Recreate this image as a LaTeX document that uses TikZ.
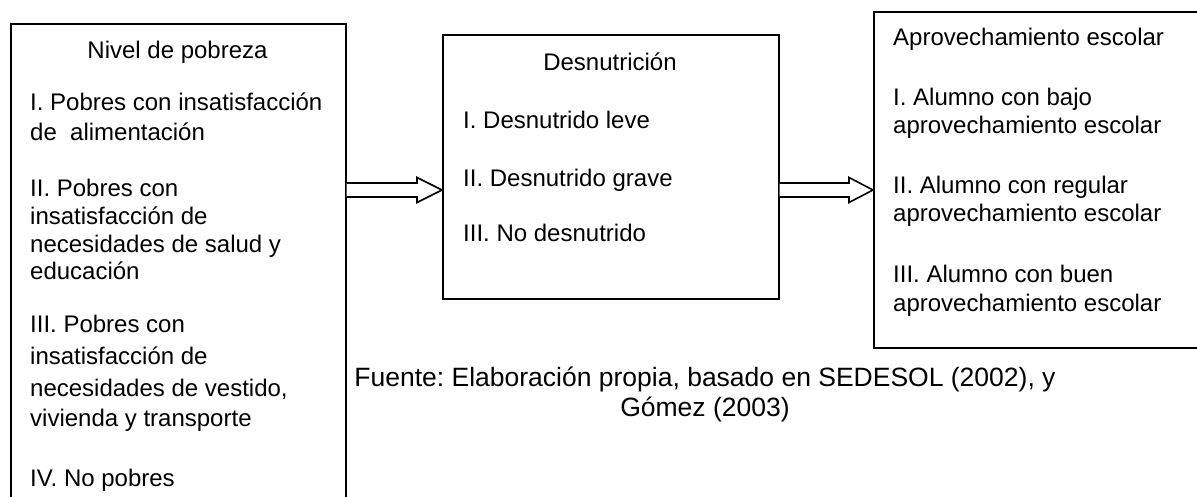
\documentclass[tikz,border=0pt]{standalone}
\usepackage{fontspec}
\setmainfont{Liberation Sans}
\usetikzlibrary{calc}
\frenchspacing
\begin{document}
\begin{tikzpicture}[x=1pt,y=-1pt,
  box/.style={draw=black, line width=1.6pt, rectangle, anchor=north west, inner sep=0pt},
  txt/.style={anchor=base west, inner sep=0pt, font=\fontsize{24}{29}\selectfont},
  ctxt/.style={anchor=base, inner sep=0pt, font=\fontsize{24}{29}\selectfont},
  captxt/.style={anchor=base, inner sep=0pt, font=\fontsize{26.5}{31}\selectfont},
  hollow/.style={draw=black, line width=1.6pt, line join=miter, fill=white}]
\useasboundingbox (0,0) rectangle (1197,497);
\fill[white] (0,0) rectangle (1197,497);
\clip (0,0) rectangle (1197,497);
% boxes
\node[box, minimum width=335pt, minimum height=540pt] (L) at (10,23) {};
\node[box, minimum width=336pt, minimum height=264pt] (M) at (442,34) {};
\node[box, minimum width=340pt, minimum height=336pt] (R) at (873,11) {};
% left box text
\node[ctxt] (l0) at (177.5,59) {Nivel de pobreza};
\node[txt] (l1) at (30,111) {I. Pobres con insatisfacción};
\node[txt] (l2) at (30,141) {de\ \ alimentación};
\node[txt] (l3) at (30,197) {II. Pobres con};
\node[txt] (l4) at (30,224.5) {insatisfacción de};
\node[txt] (l5) at (30,252) {necesidades de salud y};
\node[txt] (l6) at (30,279.5) {educación};
\node[txt] (l7) at (30,332) {III. Pobres con};
\node[txt] (l8) at (30,364) {insatisfacción de};
\node[txt] (l9) at (30,396) {necesidades de vestido,};
\node[txt] (l10) at (30,426) {vivienda y transporte};
\node[txt] (l11) at (30,486) {IV. No pobres};
% middle box text
\node[ctxt] (m0) at (610,71) {Desnutrición};
\node[txt] (m1) at (463,129) {I. Desnutrido leve};
\node[txt] (m2) at (463,187) {II. Desnutrido grave};
\node[txt] (m3) at (463,242) {III. No desnutrido};
% right box text
\node[txt] (r0) at (893,46) {Aprovechamiento escolar};
\node[txt] (r1) at (893,106) {I. Alumno con bajo};
\node[txt] (r2) at (893,134) {aprovechamiento escolar};
\node[txt] (r3) at (893,194) {II. Alumno con regular};
\node[txt] (r4) at (893,222) {aprovechamiento escolar};
\node[txt] (r5) at (893,282) {III. Alumno con buen};
\node[txt] (r6) at (893,311) {aprovechamiento escolar};
% caption
\node[captxt] (c1) at (705,386) {Fuente: Elaboración propia, basado en SEDESOL (2002), y};
\node[captxt] (c2) at (705,416) {Gómez (2003)};
% arrows
\coordinate (p1) at (L.east |- 0,190);
\coordinate (q1) at (M.west |- 0,190);
\coordinate (p2) at (M.east |- 0,190);
\coordinate (q2) at (R.west |- 0,190);
\draw[hollow] ($(p1)+(0,-7)$) -- ($(q1)+(-25,-7)$) -- ($(q1)+(-25,-12.5)$) -- (q1) -- ($(q1)+(-25,12.5)$) -- ($(q1)+(-25,7)$) -- ($(p1)+(0,7)$);
\draw[hollow] ($(p2)+(0,-7)$) -- ($(q2)+(-24,-7)$) -- ($(q2)+(-24,-12.5)$) -- (q2) -- ($(q2)+(-24,12.5)$) -- ($(q2)+(-24,7)$) -- ($(p2)+(0,7)$);
\end{tikzpicture}
\end{document}
